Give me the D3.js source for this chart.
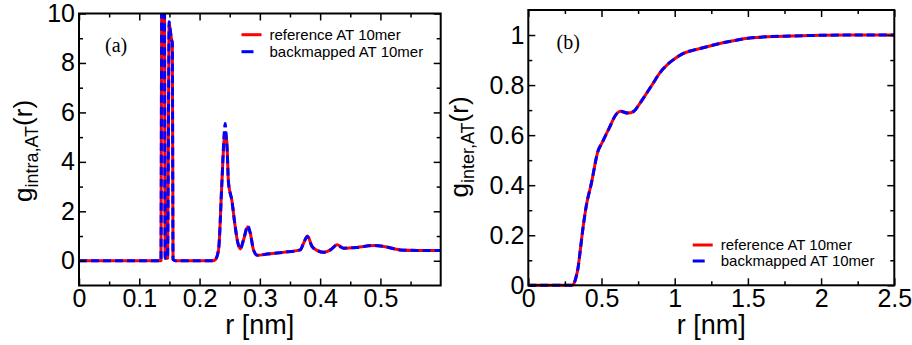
<!DOCTYPE html>
<html>
<head>
<meta charset="utf-8">
<script src="https://cdn.jsdelivr.net/npm/d3@7"></script>
<style>
  body { margin: 0; background: #fff; }
  svg { display: block; font-family: "Liberation Sans", Arial, sans-serif; }
  .tick line { stroke: #000; stroke-width: 1.5; }
  .tick text { font-size: 25px; fill: #000; }
</style>
</head>
<body>
<svg id="chart" width="912" height="345"></svg>
<script>
// ---- panel (a): intramolecular g(r) ----
var rIntra = [0, 0.05, 0.10, 0.130, 0.136, 0.1375, 0.1395, 0.1415, 0.143, 0.147, 0.1485, 0.1495,
  0.1515, 0.1535, 0.1548, 0.156, 0.160, 0.20, 0.222, 0.226, 0.2315, 0.237, 0.241, 0.2425, 0.2445,
  0.2455, 0.248, 0.2535, 0.259, 0.263, 0.2675, 0.273, 0.280, 0.284, 0.2895, 0.296, 0.312, 0.339,
  0.367, 0.3725, 0.379, 0.3865, 0.395, 0.406, 0.417, 0.428, 0.439, 0.461, 0.489, 0.5055, 0.533,
  0.561, 0.60];
var gIntraRef = [0, 0, 0, 0, 0, 14, 16, 13, 0.1, 0.1, 6, 9.6,
  9.3, 8.95, 8.8, 0.05, 0, 0, 0, 0.04, 0.45, 3.15, 5.0, 5.2, 5.0,
  4.7, 3.15, 2.45, 1.4, 0.78, 0.48, 0.85, 1.38, 1.13, 0.44, 0.22, 0.27, 0.34,
  0.44, 0.71, 1.0, 0.58, 0.42, 0.34, 0.44, 0.65, 0.51, 0.54, 0.62, 0.58, 0.44,
  0.42, 0.42];
var gIntraBm = [0, 0, 0, 0, 0, 14, 16, 13, 0.1, 0.1, 6, 9.67,
  9.3, 8.95, 8.8, 0.05, 0, 0, 0, 0.04, 0.45, 3.15, 5.2, 5.55, 4.9,
  4.6, 3.15, 2.45, 1.4, 0.78, 0.48, 0.85, 1.41, 1.13, 0.44, 0.22, 0.27, 0.34,
  0.44, 0.71, 0.98, 0.58, 0.42, 0.34, 0.44, 0.63, 0.51, 0.54, 0.62, 0.58, 0.44,
  0.42, 0.42];

// ---- panel (b): intermolecular g(r) ----
var rInter = [0, 0.1, 0.2, 0.30, 0.31, 0.325, 0.34, 0.353, 0.376, 0.40, 0.428, 0.478, 0.50,
  0.55, 0.60, 0.63, 0.68, 0.72, 0.76, 0.80, 0.85, 0.90, 0.95, 1.0, 1.05, 1.1, 1.2, 1.3,
  1.4, 1.5, 1.6, 1.8, 2.0, 2.2, 2.5];
var gInterRef = [0, 0, 0, 0, 0.005, 0.03, 0.07, 0.13, 0.24, 0.33, 0.40, 0.54, 0.565,
  0.625, 0.683, 0.695, 0.688, 0.695, 0.725, 0.76, 0.805, 0.85, 0.882, 0.905, 0.924, 0.935,
  0.95, 0.965, 0.977, 0.987, 0.992, 0.996, 0.999, 1.0, 1.0];
var gInterBm = gInterRef.slice();

// ---- axes ticks ----
var xTicksA = [0, 0.1, 0.2, 0.3, 0.4, 0.5];
var xMinorA = [0.05, 0.15, 0.25, 0.35, 0.45, 0.55];
var yTicksA = [0, 2, 4, 6, 8, 10];
var yMinorA = [1, 3, 5, 7, 9];
var xTicksB = [0, 0.5, 1, 1.5, 2, 2.5];
var xMinorB = [0.25, 0.75, 1.25, 1.75, 2.25];
var yTicksB = [0, 0.2, 0.4, 0.6, 0.8, 1];
var yMinorB = [0.1, 0.3, 0.5, 0.7, 0.9];

var seriesNames = ["reference AT 10mer", "backmapped AT 10mer"];
var seriesColors = ["#ff0000", "#0000ff"];

var svg = d3.select("#chart");

function drawPanel(o) {
  var x = d3.scaleLinear().domain(o.xDomain).range([o.left, o.right]);
  var y = d3.scaleLinear().domain(o.yDomain).range([o.bottom, o.top]);
  var g = svg.append("g");

  // clip so the tall peaks stop at the frame
  g.append("clipPath").attr("id", o.id + "-clip")
    .append("rect")
    .attr("x", o.left).attr("y", o.top)
    .attr("width", o.right - o.left).attr("height", o.bottom - o.top + 4);

  var line = d3.line()
    .x(function(d) { return x(d[0]); })
    .y(function(d) { return y(d[1]); })
    .curve(d3.curveMonotoneX);

  var curves = g.append("g").attr("clip-path", "url(#" + o.id + "-clip)");
  o.series.forEach(function(s, i) {
    var pts = o.r.map(function(r, k) { return [r, s[k]]; });
    curves.append("path")
      .attr("d", line(pts))
      .attr("fill", "none")
      .attr("stroke", seriesColors[i])
      .attr("stroke-width", 3)
      .attr("stroke-linejoin", "round")
      .attr("stroke-dasharray", i === 1 ? "8,4" : null);
  });

  // major + minor ticks on all four sides, pointing inward
  function ax(axisFn, scale, vals, size, labels, tr) {
    var a = g.append("g").attr("transform", tr)
      .call(axisFn(scale).tickValues(vals).tickSizeInner(-size).tickSizeOuter(0)
        .tickPadding(o.pad).tickFormat(labels ? function(d) { return String(d); } : ""));
    a.select(".domain").remove();
    return a;
  }
  ax(d3.axisBottom, x, o.xTicks, 7, true, "translate(0," + o.bottom + ")");
  ax(d3.axisBottom, x, o.xMinor, 4, false, "translate(0," + o.bottom + ")");
  ax(d3.axisTop, x, o.xTicks, 7, false, "translate(0," + o.top + ")");
  ax(d3.axisTop, x, o.xMinor, 4, false, "translate(0," + o.top + ")");
  ax(d3.axisLeft, y, o.yTicks, 7, true, "translate(" + o.left + ",0)");
  ax(d3.axisLeft, y, o.yMinor, 4, false, "translate(" + o.left + ",0)");
  ax(d3.axisRight, y, o.yTicks, 7, false, "translate(" + o.right + ",0)");
  ax(d3.axisRight, y, o.yMinor, 4, false, "translate(" + o.right + ",0)");

  g.append("rect")
    .attr("x", o.left).attr("y", o.top)
    .attr("width", o.right - o.left).attr("height", o.bottom - o.top)
    .attr("fill", "none").attr("stroke", "#000").attr("stroke-width", 2);

  // axis titles
  g.append("text")
    .attr("x", (o.left + o.right) / 2).attr("y", 334)
    .attr("text-anchor", "middle").attr("font-size", 27)
    .text("r [nm]");

  var yl = g.append("text")
    .attr("transform", "translate(" + o.ylabX + "," + o.ylabY + ") rotate(-90)")
    .attr("text-anchor", "middle").attr("font-size", 26);
  yl.append("tspan").text("g");
  yl.append("tspan").attr("font-size", 18).attr("dy", 6).text(o.sub);
  yl.append("tspan").attr("dy", -6).text("(r)");

  // panel letter
  g.append("text")
    .attr("x", o.tagX).attr("y", o.tagY)
    .attr("font-family", "'Liberation Serif', 'Times New Roman', serif")
    .attr("font-size", 20).text(o.tag);

  // legend
  var lg = g.append("g").attr("transform", "translate(" + o.legX + "," + o.legY + ")");
  seriesNames.forEach(function(name, i) {
    var row = lg.append("g").attr("transform", "translate(0," + (i * o.legGap) + ")");
    row.append("line")
      .attr("x1", 0).attr("x2", 20).attr("y1", 0).attr("y2", 0)
      .attr("stroke", seriesColors[i]).attr("stroke-width", 3)
      .attr("stroke-dasharray", i === 1 ? "12,10" : null);
    row.append("text")
      .attr("x", 28).attr("y", 5.3)
      .attr("font-size", 15).text(name);
  });
}

drawPanel({
  id: "pa", left: 79, right: 440.7, top: 13.5, bottom: 285.5,
  xDomain: [0, 0.6], yDomain: [-1, 10],
  xTicks: xTicksA, xMinor: xMinorA, yTicks: yTicksA, yMinor: yMinorA,
  pad: 4,
  r: rIntra, series: [gIntraRef, gIntraBm],
  sub: "intra,AT", ylabX: 32, ylabY: 151,
  tag: "(a)", tagX: 105, tagY: 52,
  legX: 241.5, legY: 34.7, legGap: 17
});

drawPanel({
  id: "pb", left: 528.3, right: 894.3, top: 10, bottom: 285.3,
  xDomain: [0, 2.5], yDomain: [0, 1.1],
  xTicks: xTicksB, xMinor: xMinorB, yTicks: yTicksB, yMinor: yMinorB,
  pad: 4,
  r: rInter, series: [gInterRef, gInterBm],
  sub: "inter,AT", ylabX: 468, ylabY: 147,
  tag: "(b)", tagX: 556.5, tagY: 48.5,
  legX: 692.7, legY: 245, legGap: 16
});
</script>
</body>
</html>
